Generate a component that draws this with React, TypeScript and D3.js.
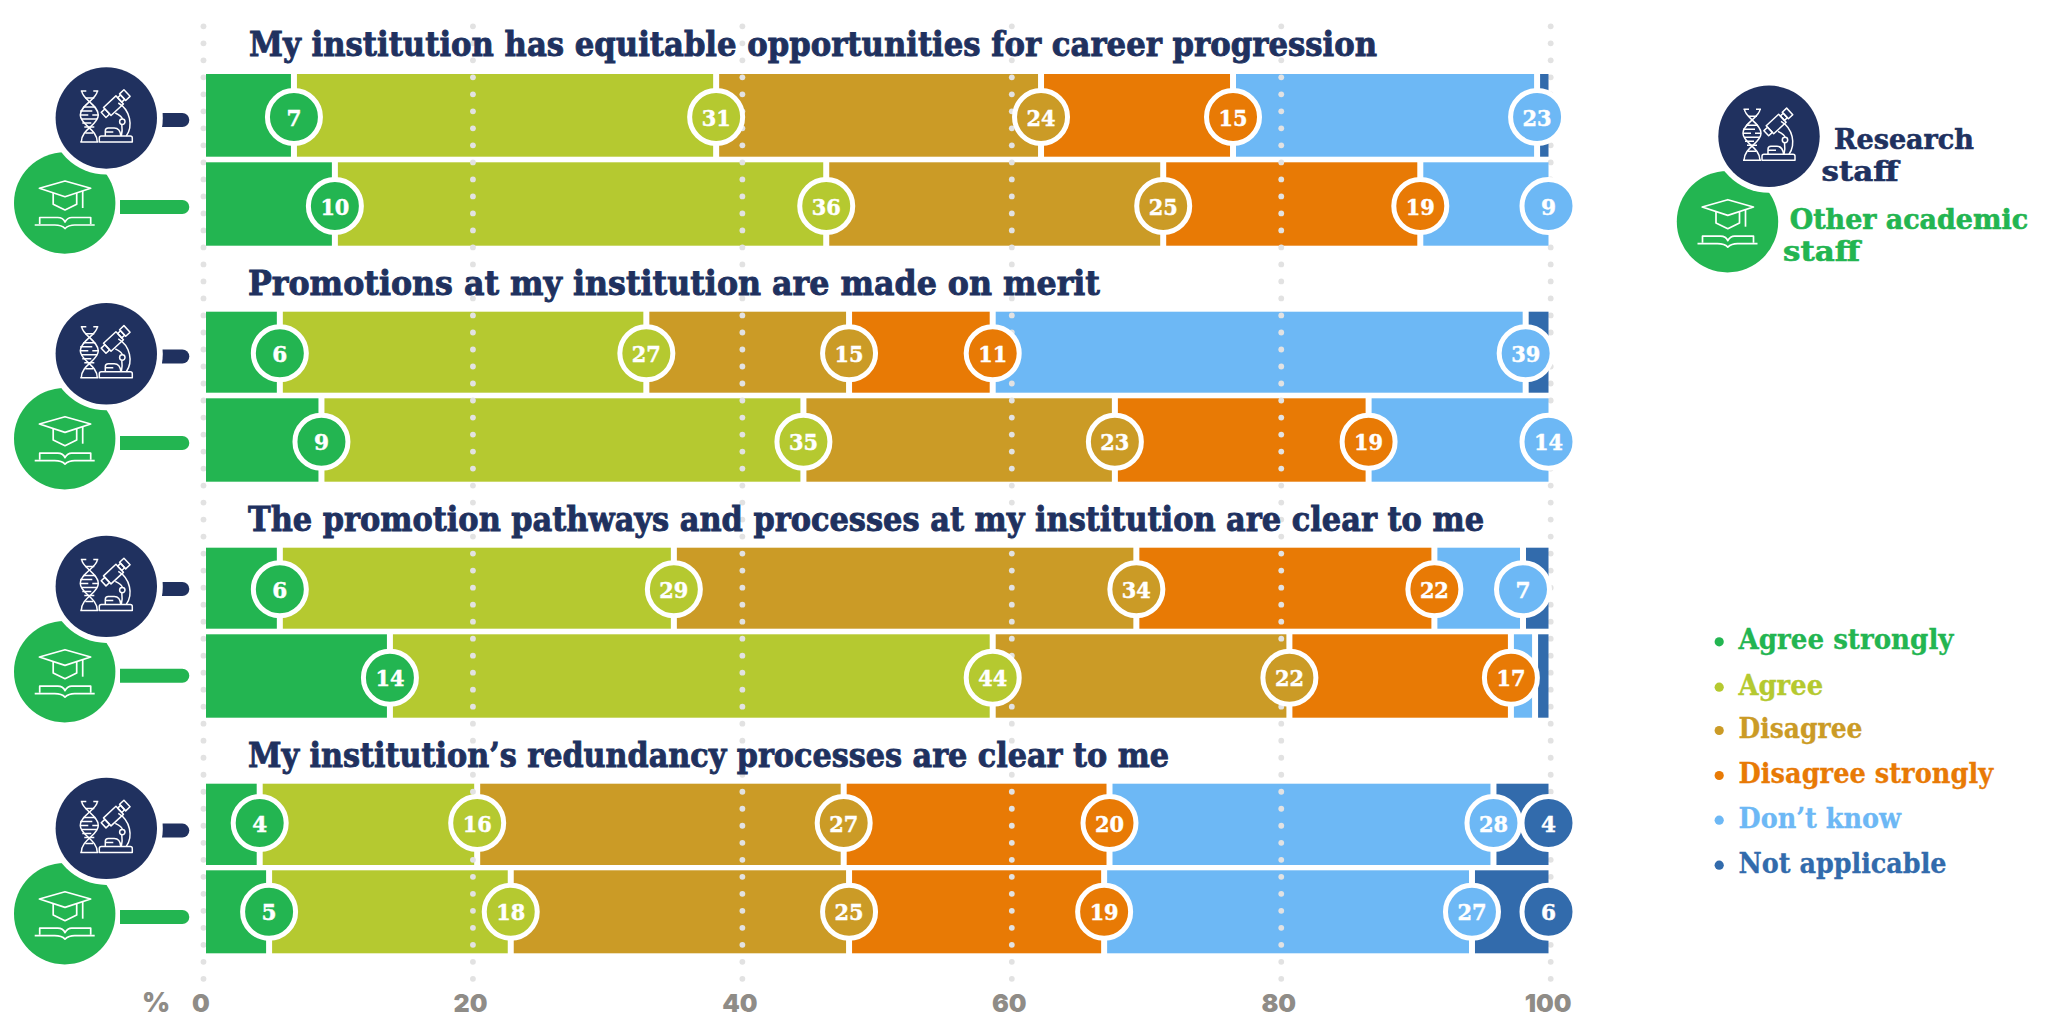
import React from "react";
import * as d3 from "d3";

const questions = [
  "My institution has equitable opportunities for career progression",
  "Promotions at my institution are made on merit",
  "The promotion pathways and processes at my institution are clear to me",
  "My institution\u2019s redundancy processes are clear to me",
];
const responses = ["Agree strongly", "Agree", "Disagree", "Disagree strongly", "Don\u2019t know", "Not applicable"];
const responseColors = ["#23b551", "#b5c930", "#cb9b26", "#e87a05", "#6db8f5", "#326bac"];
const axisTicks = [0, 20, 40, 60, 80, 100];

// Share of each response (Research staff, then Other academic staff, per question)
const shareQ1Research = [6.55, 31.45, 24.2, 14.3, 22.65, 0.85];
const shareQ1Academic = [9.6, 36.6, 25.1, 19.15, 9.55, 0];
const shareQ2Research = [5.5, 27.3, 15.1, 10.7, 39.7, 1.7];
const shareQ2Academic = [8.6, 35.9, 23.2, 18.9, 13.4, 0];
const shareQ3Research = [5.5, 29.35, 34.45, 22.2, 6.6, 1.9];
const shareQ3Academic = [13.7, 44.9, 22.1, 16.5, 1.8, 1];
const shareQ4Research = [4, 16.2, 27.3, 19.8, 28.6, 4.1];
const shareQ4Academic = [4.7, 18, 25.2, 19, 27.4, 5.7];

// Printed labels
const labelQ1Research = [7, 31, 24, 15, 23, null];
const labelQ1Academic = [10, 36, 25, 19, 9, null];
const labelQ2Research = [6, 27, 15, 11, 39, null];
const labelQ2Academic = [9, 35, 23, 19, 14, null];
const labelQ3Research = [6, 29, 34, 22, 7, null];
const labelQ3Academic = [14, 44, 22, 17, null, null];
const labelQ4Research = [4, 16, 27, 20, 28, 4];
const labelQ4Academic = [5, 18, 25, 19, 27, 6];

const shares = [shareQ1Research, shareQ1Academic, shareQ2Research, shareQ2Academic, shareQ3Research, shareQ3Academic, shareQ4Research, shareQ4Academic];
const labels = [labelQ1Research, labelQ1Academic, labelQ2Research, labelQ2Academic, labelQ3Research, labelQ3Academic, labelQ4Research, labelQ4Academic];

// Layout
const W = 2050, H = 1023;
const barX = d3.scaleLinear().domain([0, 100]).range([206, 1548.5]);
const gridX = d3.scaleLinear().domain([0, 100]).range([203.5, 1550.7]);
const rowBox = [[74, 156.7], [162.3, 245.7], [311.7, 392.7], [398.3, 481.7], [547.7, 628.7], [634.3, 717.7], [783.7, 865], [870.3, 953.3]];
const labelY = [117, 206, 353.3, 441.7, 589.3, 677.7, 823, 911.7];
const titleBase = [55.7, 295, 531, 766.7];
const titleLeft = [249, 248, 248, 248];
const titleRight = [1377, 1100, 1484, 1169];
const navyY = [118, 353.8, 586.4, 828.4];
const greenY = [203, 438.7, 671.7, 913.7];
const navyPillY = [120, 356.5, 589, 830.6];
const greenPillY = [207, 443, 675.7, 917];
const NAVY = "#20315f", GREEN = "#23b551";
const dotYs = d3.range(26.3, 980, 17.01);
const SLAB = "'DejaVu Serif', serif";

function Dots({ pct }: { pct: number }) {
  return <g>{dotYs.map((y, i) => <circle key={i} cx={gridX(pct)} cy={y} r={2.9} fill="#e2e2e2" />)}</g>;
}

function ResearchIcon({ x, y }: { x: number; y: number }) {
  const s = { fill: "none", stroke: "#fff", strokeWidth: 1.5, strokeLinejoin: "round" as const };
  return (
    <g transform={`translate(${x},${y})`} {...s}>
      <path d="M-24.5,-27 C-24.5,-19 -8,-13 -8,-3 C-8,7 -25,11 -25,24" />
      <path d="M-9,-27 C-9,-19 -26,-13 -26,-3 C-26,7 -9,11 -9,24" />
      <path d="M-25.5,-27 H-20 M-13,-27 H-8 M-21,-20 H-12 M-23,-11 H-11 M-26,-7 H-14 M-26,-3 H-18 M-14,-3 H-8 M-25,1 H-9 M-24,5 H-15 M-22,9 H-12 M-21,15 H-13 M-26,24 H-8" />
      <g transform="translate(9,-14) rotate(-43)">
        <rect x={-11} y={-5.5} width={17} height={11} />
        <rect x={-16} y={-3.5} width={5} height={7} />
        <rect x={6} y={-3} width={4} height={6} />
        <rect x={10} y={-4.5} width={6} height={9} />
      </g>
      <path d="M12,-15 C24,-8 27,8 20,18" />
      <path d="M9,-5 C13,-3 16,-1 16,1" />
      <circle cx={16} cy={3.7} r={2.7} />
      <path d="M15.5,6.5 C16,10 16,14 15,18" />
      <path d="M-1,18 V13 C-1,11 0,10 2,10 H8 C11,10 14,12 14.5,18 M-1,14 H7" />
      <path d="M-7,24 V20 Q-7,18 -5,18 H24 Q26,18 26,20 V24 Z" />
    </g>
  );
}

function AcademicIcon({ x, y }: { x: number; y: number }) {
  return (
    <g transform={`translate(${x},${y})`} fill="none" stroke="#fff" strokeWidth={1.7} strokeLinejoin="round">
      <path d="M-25.3,-14.7 L0.3,-22 L26,-14.7 L0.3,-6.3 Z" />
      <path d="M-11.5,-10 V1.3 L0.3,7 L12,1.3 V-10" />
      <path d="M18,-12 V5" />
      <path d="M-25,21 V14.5 H-7 C-3,14.5 -1,16 0.3,19 C2,16 4,14.5 7,14.5 H26 V21" />
      <path d="M-30,22 H-10 C-5,22 -2,23 0.3,25.5 C3,23 6,22 10,22 H30" />
    </g>
  );
}

function Pill({ x0, x1, y, color }: { x0: number; x1: number; y: number; color: string }) {
  return <path d={`M${x0},${y - 7} H${x1 - 7} A7,7 0 0 1 ${x1 - 7},${y + 7} H${x0} Z`} fill={color} />;
}

function IconPair({ nx, ny, gx, gy }: { nx: number; ny: number; gx: number; gy: number }) {
  return (
    <g>
      <circle cx={gx} cy={gy} r={50.7} fill={GREEN} />
      <circle cx={nx} cy={ny} r={56.5} fill="#fff" />
      <circle cx={nx} cy={ny} r={50.7} fill={NAVY} />
      <ResearchIcon x={nx} y={ny} />
      <AcademicIcon x={gx} y={gy} />
    </g>
  );
}

export default function App() {
  return (
    <svg width={W} height={H} viewBox={`0 0 ${W} ${H}`} style={{ position: "absolute", left: 0, top: 0, display: "block", background: "#fff" }}>
      {/* outer gridlines sit behind the bars */}
      <Dots pct={0} />
      <Dots pct={100} />

      {shares.map((row, r) => {
        const ends = Array.from(d3.cumsum(row));
        return (
          <g key={r}>
            {row.map((v, i) => {
              if (v <= 0) return null;
              const start = i === 0 ? barX(0) : barX(ends[i - 1]) + 3;
              const last = Math.abs(ends[i] - 100) < 0.01;
              const end = last ? barX(100) : barX(ends[i]) - 3;
              return <rect key={i} x={start} y={rowBox[r][0]} width={end - start} height={rowBox[r][1] - rowBox[r][0]} fill={responseColors[i]} />;
            })}
          </g>
        );
      })}

      {axisTicks.slice(1, -1).map((t) => <Dots key={t} pct={t} />)}

      {navyY.map((y, i) => (
        <g key={i}>
          <Pill x0={120} x1={189.3} y={greenPillY[i]} color={GREEN} />
          <Pill x0={162} x1={189.3} y={navyPillY[i]} color={NAVY} />
          <IconPair nx={106.3} ny={y} gx={64.7} gy={greenY[i]} />
        </g>
      ))}

      {questions.map((q, i) => (
        <text key={i} x={titleLeft[i]} y={titleBase[i]} fill={NAVY} stroke={NAVY} strokeWidth={0.9} fontFamily={SLAB} fontWeight={700} fontSize={33} textLength={titleRight[i] - titleLeft[i]} lengthAdjust="spacingAndGlyphs">{q}</text>
      ))}

      {shares.map((row, r) => {
        const ends = Array.from(d3.cumsum(row));
        return (
          <g key={r}>
            {labels[r].map((lab, i) => {
              if (lab === null) return null;
              const cx = barX(ends[i]);
              const cy = labelY[r];
              return (
                <g key={i}>
                  <circle cx={cx} cy={cy} r={26.5} fill={responseColors[i]} stroke="#fff" strokeWidth={5} />
                  <text x={cx} y={cy + 8.5} textAnchor="middle" fill="#fff" stroke="#fff" strokeWidth={0.5} fontFamily={SLAB} fontWeight={700} fontSize={23} textLength={String(lab).length > 1 ? 29 : 15} lengthAdjust="spacingAndGlyphs">{lab}</text>
                </g>
              );
            })}
          </g>
        );
      })}

      <g fill="#8f8c87" fontFamily="Inter, sans-serif" fontWeight={900} fontSize={25} textAnchor="middle">
        <text x={156} y={1011.5} fontSize={27}>%</text>
        {axisTicks.map((t) => <text key={t} x={gridX(t) - 2.5} y={1011.5}>{t}</text>)}
      </g>

      <IconPair nx={1769} ny={136.3} gx={1727.5} gy={221.7} />
      <g fontFamily={SLAB} fontWeight={700} fontSize={27} strokeWidth={0.6}>
        <text x={1834} y={149} fill={NAVY} stroke={NAVY} textLength={140} lengthAdjust="spacingAndGlyphs">Research</text>
        <text x={1821.6} y={180.7} fill={NAVY} stroke={NAVY} textLength={77} lengthAdjust="spacingAndGlyphs">staff</text>
        <text x={1789.7} y={228.7} fill={GREEN} stroke={GREEN} textLength={238.4} lengthAdjust="spacingAndGlyphs">Other academic</text>
        <text x={1783} y={261} fill={GREEN} stroke={GREEN} textLength={77} lengthAdjust="spacingAndGlyphs">staff</text>
      </g>

      {responses.map((name, i) => {
        const ys = [649.3, 694.7, 738, 783, 827.7, 872.7];
        const ws = [215, 84.6, 124, 254.6, 162.5, 208];
        return (
          <g key={name}>
            <circle cx={1719.2} cy={ys[i] - 7.5} r={4.6} fill={responseColors[i]} />
            <text x={1738.5} y={ys[i]} fill={responseColors[i]} stroke={responseColors[i]} strokeWidth={0.3} fontFamily={SLAB} fontWeight={700} fontSize={27} textLength={ws[i]} lengthAdjust="spacingAndGlyphs">{name}</text>
          </g>
        );
      })}
    </svg>
  );
}
